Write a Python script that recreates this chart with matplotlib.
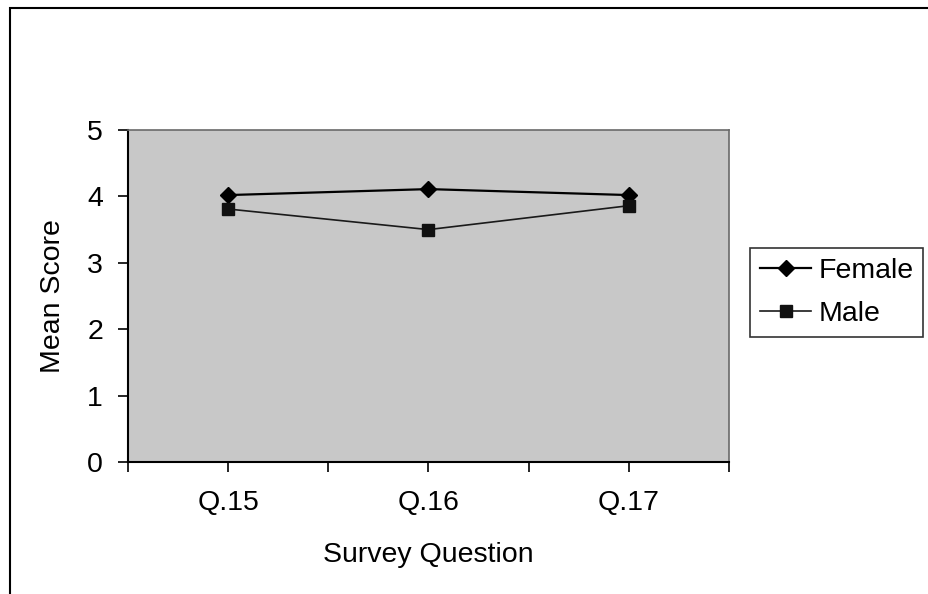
import matplotlib
matplotlib.use("Agg")
import matplotlib.pyplot as plt
from matplotlib.patches import Rectangle

categories = ["Q.15", "Q.16", "Q.17"]
female = [4.02, 4.11, 4.02]
male = [3.81, 3.50, 3.86]
yticks = [0, 1, 2, 3, 4, 5]

plt.rcParams['font.family'] = ['Liberation Sans', 'DejaVu Sans']

W, H = 929, 594
FS = 20.5
fig = plt.figure(figsize=(W/100, H/100), dpi=100)
fig.patch.set_facecolor('white')

# outer chart frame (left and top edges visible)
fig.add_artist(Rectangle((10/W, -0.1), 1.2, 1 - 8/H + 0.1, transform=fig.transFigure,
                         fill=False, edgecolor='black', linewidth=1.5))

ax = fig.add_axes([128/W, 1 - 462/H, (729-128)/W, (462-130)/H])
ax.set_facecolor('#c8c8c8')

x = list(range(1, len(categories) + 1))
ax.plot(x, female, color='black', linewidth=1.6, marker='D', markersize=8,
        markerfacecolor='black', markeredgecolor='black', label='Female')
ax.plot(x, male, color='#1a1a1a', linewidth=1.2, marker='s', markersize=8,
        markerfacecolor='#111111', markeredgecolor='#111111', label='Male')

ax.set_xlim(0.5, len(categories) + 0.5)
ax.set_ylim(0, 5)
ax.set_yticks(yticks)
ax.set_yticklabels([str(v) for v in yticks], fontsize=FS)
ax.set_xticks([0.5 + 0.5*i for i in range(2*len(categories) + 1)])
labels = []
for i in range(2*len(categories) + 1):
    v = 0.5 + 0.5*i
    labels.append(categories[int(v) - 1] if float(v).is_integer() else '')
ax.set_xticklabels(labels, fontsize=FS)
ax.tick_params(axis='x', direction='out', length=7, width=1.2, pad=13)
ax.tick_params(axis='y', direction='out', length=7, width=1.2, pad=11)

for s in ['left', 'bottom']:
    ax.spines[s].set_color('black')
    ax.spines[s].set_linewidth(1.5)
for s in ['top', 'right']:
    ax.spines[s].set_color('#6a6a6a')
    ax.spines[s].set_linewidth(1.2)

ax.set_xlabel('Survey Question', fontsize=FS, labelpad=19)
ax.set_ylabel('Mean Score', fontsize=FS, labelpad=15)

leg = fig.legend(loc='upper left', bbox_to_anchor=(750/W, 1 - 248/H), fontsize=FS,
                 frameon=True, fancybox=False, edgecolor='black', handlelength=1.8,
                 handletextpad=0.25, borderpad=0.35, labelspacing=0.6, borderaxespad=0)
leg.get_frame().set_linewidth(1.2)

fig.savefig('out.png', dpi=100, facecolor='white')
